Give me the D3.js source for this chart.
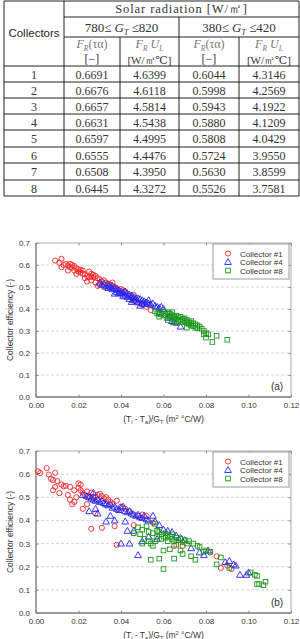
<!DOCTYPE html>
<html lang="en">
<head>
    <meta charset="UTF-8">
    <title>Collector efficiency</title>
    <script src="https://d3js.org/d3.v7.min.js"></script>
    <style>
        body { margin: 0; background: #fff; }
        .cell { font-family: "Liberation Serif", "DejaVu Serif", serif; fill: #333; }
        .axis-text { font-family: "Liberation Sans", Arial, sans-serif; fill: #333; }
        .grid { stroke: #c8c8c8; stroke-dasharray: 3,2; stroke-width: 0.8px; }
    </style>
</head>
<body>
<svg width="300" height="639"></svg>
<script>
// table values
const collectors = [1, 2, 3, 4, 5, 6, 7, 8];
const frTau780 = ['0.6691', '0.6676', '0.6657', '0.6631', '0.6597', '0.6555', '0.6508', '0.6445'];
const frUl780 = ['4.6399', '4.6118', '4.5814', '4.5438', '4.4995', '4.4476', '4.3950', '4.3272'];
const frTau380 = ['0.6044', '0.5998', '0.5943', '0.5880', '0.5808', '0.5724', '0.5630', '0.5526'];
const frUl380 = ['4.3146', '4.2569', '4.1922', '4.1209', '4.0429', '3.9550', '3.8599', '3.7581'];

// axis ticks
const xTicks = [0, 0.02, 0.04, 0.06, 0.08, 0.10, 0.12];
const yTicks = [0, 0.1, 0.2, 0.3, 0.4, 0.5, 0.6, 0.7];
const seriesNames = ['Collector #1', 'Collector #4', 'Collector #8'];

// chart (a): 780-820 W/m2
const a1 = [[0.009,0.620],[0.011,0.610],[0.012,0.628],[0.012,0.590],[0.013,0.600],[0.014,0.605],[0.015,0.598],[0.015,0.575],
  [0.016,0.605],[0.016,0.590],[0.017,0.600],[0.018,0.595],[0.018,0.575],[0.019,0.585],[0.019,0.560],[0.020,0.580],[0.020,0.570],
  [0.021,0.578],[0.022,0.575],[0.022,0.560],[0.023,0.540],[0.024,0.550],[0.024,0.525],[0.025,0.570],[0.025,0.545],[0.026,0.560],
  [0.026,0.530],[0.027,0.555],[0.027,0.545],[0.028,0.550],[0.028,0.520],[0.029,0.540],[0.029,0.505],[0.030,0.535],[0.030,0.510],
  [0.031,0.525],[0.032,0.530],[0.032,0.500],[0.033,0.520],[0.034,0.515],[0.035,0.510],[0.036,0.520],[0.037,0.500],[0.038,0.495],
  [0.040,0.490],[0.041,0.485],[0.042,0.480],[0.044,0.460],[0.045,0.450],[0.046,0.465],[0.047,0.440],[0.048,0.430],[0.050,0.420],
  [0.052,0.410],[0.054,0.395],[0.017,0.588],[0.021,0.565],[0.023,0.558],[0.026,0.548]];
const a4 = [[0.030,0.520],[0.031,0.510],[0.032,0.515],[0.033,0.505],[0.034,0.510],[0.034,0.495],[0.035,0.500],[0.036,0.505],
  [0.036,0.490],[0.037,0.495],[0.037,0.470],[0.038,0.490],[0.038,0.478],[0.039,0.485],[0.040,0.480],[0.040,0.470],[0.041,0.475],
  [0.041,0.458],[0.042,0.478],[0.042,0.462],[0.043,0.470],[0.044,0.465],[0.044,0.445],[0.045,0.460],[0.045,0.432],[0.046,0.455],
  [0.046,0.440],[0.047,0.450],[0.048,0.448],[0.048,0.430],[0.049,0.445],[0.049,0.415],[0.050,0.440],[0.050,0.425],[0.051,0.435],
  [0.052,0.430],[0.053,0.425],[0.053,0.440],[0.054,0.420],[0.055,0.425],[0.056,0.415],[0.057,0.410],[0.058,0.405],[0.058,0.380],
  [0.059,0.410],[0.060,0.400],[0.062,0.360],[0.064,0.345],[0.065,0.340],[0.068,0.320],[0.039,0.472],[0.043,0.455],[0.047,0.438],
  [0.051,0.422]];
const a8 = [[0.056,0.390],[0.057,0.380],[0.058,0.385],[0.058,0.365],[0.059,0.375],[0.060,0.388],[0.060,0.370],[0.061,0.380],
  [0.062,0.385],[0.062,0.365],[0.062,0.350],[0.063,0.378],[0.063,0.360],[0.064,0.372],[0.064,0.385],[0.065,0.365],[0.065,0.350],
  [0.066,0.370],[0.066,0.355],[0.066,0.335],[0.067,0.362],[0.067,0.345],[0.068,0.365],[0.068,0.350],[0.069,0.355],[0.069,0.340],
  [0.070,0.358],[0.070,0.345],[0.071,0.350],[0.071,0.315],[0.072,0.340],[0.072,0.330],[0.073,0.345],[0.073,0.325],[0.074,0.335],
  [0.075,0.330],[0.075,0.315],[0.076,0.325],[0.077,0.320],[0.078,0.310],[0.079,0.300],[0.079,0.285],[0.080,0.290],[0.080,0.270],
  [0.081,0.285],[0.083,0.250],[0.085,0.278],[0.090,0.260],[0.061,0.372],[0.063,0.368],[0.065,0.358],[0.067,0.352],[0.069,0.348],
  [0.071,0.338],[0.073,0.335],[0.074,0.322],[0.076,0.312]];

// chart (b): 380-420 W/m2
const b1 = [[0.001,0.612],[0.002,0.605],[0.005,0.626],[0.006,0.598],[0.007,0.580],[0.008,0.575],[0.009,0.606],[0.009,0.545],
  [0.008,0.530],[0.010,0.570],[0.011,0.518],[0.012,0.555],[0.013,0.548],[0.014,0.550],[0.015,0.510],[0.016,0.490],[0.016,0.545],
  [0.017,0.470],[0.018,0.530],[0.018,0.480],[0.019,0.500],[0.020,0.560],[0.020,0.540],[0.021,0.530],[0.021,0.555],[0.022,0.520],
  [0.022,0.450],[0.023,0.510],[0.024,0.525],[0.024,0.470],[0.025,0.505],[0.026,0.364],[0.026,0.520],[0.027,0.500],[0.028,0.430],
  [0.028,0.500],[0.029,0.510],[0.030,0.515],[0.031,0.368],[0.031,0.505],[0.032,0.495],[0.033,0.500],[0.034,0.490],[0.035,0.480],
  [0.036,0.470],[0.037,0.375],[0.038,0.295],[0.038,0.485],[0.040,0.460],[0.042,0.450],[0.044,0.440],[0.046,0.380],[0.048,0.420],
  [0.050,0.425],[0.052,0.420],[0.055,0.390],[0.065,0.290],[0.069,0.290],[0.082,0.262],[0.085,0.245],[0.087,0.195],[0.090,0.205],
  [0.092,0.190]];
const b4 = [[0.022,0.510],[0.024,0.505],[0.025,0.500],[0.026,0.495],[0.027,0.520],[0.027,0.490],[0.028,0.485],[0.029,0.490],
  [0.030,0.480],[0.031,0.485],[0.032,0.475],[0.033,0.470],[0.034,0.465],[0.035,0.470],[0.036,0.455],[0.037,0.460],[0.038,0.450],
  [0.039,0.445],[0.040,0.455],[0.041,0.460],[0.042,0.440],[0.043,0.435],[0.044,0.440],[0.045,0.430],[0.046,0.425],[0.047,0.420],
  [0.048,0.425],[0.049,0.415],[0.050,0.410],[0.051,0.420],[0.052,0.405],[0.053,0.400],[0.055,0.420],[0.056,0.395],[0.058,0.380],
  [0.060,0.360],[0.062,0.355],[0.064,0.350],[0.066,0.335],[0.068,0.325],[0.070,0.315],[0.073,0.280],[0.077,0.262],[0.079,0.250],
  [0.081,0.270],[0.089,0.220],[0.091,0.225],[0.093,0.210],[0.094,0.205],[0.096,0.165],[0.099,0.165],[0.100,0.175],[0.025,0.440],
  [0.028,0.450],[0.029,0.430],[0.033,0.395],[0.035,0.420],[0.037,0.400],[0.042,0.395],[0.040,0.300],[0.044,0.300],[0.043,0.355],
  [0.046,0.355],[0.048,0.250],[0.050,0.310],[0.053,0.330],[0.057,0.320]];
const b8 = [[0.046,0.345],[0.048,0.370],[0.049,0.340],[0.050,0.360],[0.050,0.300],[0.051,0.320],[0.052,0.375],[0.053,0.350],
  [0.053,0.310],[0.054,0.300],[0.054,0.230],[0.055,0.345],[0.055,0.290],[0.056,0.385],[0.056,0.310],[0.057,0.355],[0.057,0.330],
  [0.058,0.350],[0.058,0.235],[0.059,0.340],[0.059,0.320],[0.060,0.330],[0.060,0.270],[0.060,0.190],[0.061,0.345],[0.061,0.325],
  [0.062,0.335],[0.062,0.310],[0.063,0.330],[0.063,0.275],[0.064,0.320],[0.064,0.340],[0.065,0.310],[0.065,0.235],[0.066,0.325],
  [0.066,0.295],[0.067,0.315],[0.068,0.320],[0.068,0.270],[0.069,0.305],[0.069,0.255],[0.070,0.315],[0.071,0.300],[0.072,0.310],
  [0.073,0.245],[0.074,0.300],[0.075,0.230],[0.076,0.290],[0.077,0.285],[0.079,0.265],[0.080,0.270],[0.082,0.265],[0.085,0.210],
  [0.087,0.240],[0.091,0.195],[0.101,0.175],[0.103,0.165],[0.104,0.160],[0.104,0.125],[0.105,0.125],[0.107,0.120],[0.108,0.135]];

const svg = d3.select('svg');

// ---------- table ----------
const colX = [4, 64, 120, 179, 239, 299];
const rowY = [1, 17, 37, 66, 82, 98, 114, 130, 147, 163, 180, 196];
const tbl = svg.append('g');
const line = (x1, y1, x2, y2) => tbl.append('line')
    .attr('x1', x1).attr('y1', y1).attr('x2', x2).attr('y2', y2)
    .attr('stroke', '#222').attr('stroke-width', 1);

line(colX[0], rowY[0], colX[5], rowY[0]);
line(colX[1], rowY[1], colX[5], rowY[1]);
line(colX[1], rowY[2], colX[5], rowY[2]);
for (let i = 3; i < rowY.length; i++) line(colX[0], rowY[i], colX[5], rowY[i]);
line(colX[0], rowY[0], colX[0], rowY[11]);
line(colX[1], rowY[0], colX[1], rowY[11]);
line(colX[5], rowY[0], colX[5], rowY[11]);
line(colX[3], rowY[1], colX[3], rowY[11]);
line(colX[2], rowY[2], colX[2], rowY[11]);
line(colX[4], rowY[2], colX[4], rowY[11]);

const mid = i => (colX[i] + colX[i + 1]) / 2;

tbl.append('text').attr('class', 'cell')
    .attr('x', (colX[1] + colX[5]) / 2).attr('y', 13)
    .attr('text-anchor', 'middle').attr('font-size', 12.5).attr('letter-spacing', 0.9)
    .text('Solar radiation [W/\u33A1]');

tbl.append('text')
    .attr('x', mid(0)).attr('y', 37)
    .attr('text-anchor', 'middle').attr('font-size', 11.5)
    .attr('font-family', '"Liberation Sans", Arial, sans-serif').attr('fill', '#222')
    .text('Collectors');

function rangeLabel(x, lo, hi) {
    const t = tbl.append('text').attr('class', 'cell')
        .attr('x', x).attr('y', 32).attr('text-anchor', 'middle').attr('font-size', 13);
    t.append('tspan').text(lo + '\u2264 ');
    t.append('tspan').attr('font-style', 'italic').text('G');
    t.append('tspan').attr('font-style', 'italic').attr('font-size', 8).attr('dy', 3).text('T');
    t.append('tspan').attr('dy', -3).text(' \u2264' + hi);
}
rangeLabel((colX[1] + colX[3]) / 2, 780, 820);
rangeLabel((colX[3] + colX[5]) / 2, 380, 420);

function frTau(x) {
    const t = tbl.append('text').attr('class', 'cell')
        .attr('x', x).attr('y', 48).attr('text-anchor', 'middle').attr('font-size', 12)
        .style('fill', '#777');
    t.append('tspan').attr('font-style', 'italic').text('F');
    t.append('tspan').attr('font-style', 'italic').attr('font-size', 7.5).attr('dy', 2.5).text('R');
    t.append('tspan').attr('dy', -2.5).text('(\u03C4\u03B1)');
    tbl.append('text').attr('class', 'cell').attr('x', x).attr('y', 63)
        .attr('text-anchor', 'middle').attr('font-size', 12).text('[\u2212]');
}
function frUl(x) {
    const t = tbl.append('text').attr('class', 'cell')
        .attr('x', x).attr('y', 48).attr('text-anchor', 'middle').attr('font-size', 12)
        .style('fill', '#777');
    t.append('tspan').attr('font-style', 'italic').text('F');
    t.append('tspan').attr('font-style', 'italic').attr('font-size', 7.5).attr('dy', 2.5).text('R');
    t.append('tspan').attr('font-style', 'italic').attr('dy', -2.5).text(' U');
    t.append('tspan').attr('font-style', 'italic').attr('font-size', 7.5).attr('dy', 2.5).text('L');
    tbl.append('text').attr('class', 'cell').attr('x', x).attr('y', 63.5)
        .attr('text-anchor', 'middle').attr('font-size', 11).text('[W/\u33A1\u2103]');
}
frTau(mid(1)); frUl(mid(2)); frTau(mid(3)); frUl(mid(4));

const cols = [collectors, frTau780, frUl780, frTau380, frUl380];
cols.forEach((vals, ci) => {
    tbl.selectAll(null).data(vals).enter().append('text')
        .attr('class', 'cell')
        .attr('x', mid(ci))
        .attr('y', (d, i) => (rowY[i + 3] + rowY[i + 4]) / 2 + 4.5)
        .attr('text-anchor', 'middle').attr('font-size', 12)
        .text(d => d);
});

// ---------- scatter charts ----------
const colors = ['#f52525', '#2424f0', '#1c961c'];

function drawChart(top, bottom, series, tag) {
    const g = svg.append('g');
    const x = d3.scaleLinear().domain([0, 0.12]).range([36, 291]);
    const y = d3.scaleLinear().domain([0, 0.7]).range([bottom, top]);

    g.selectAll('.grid').data(yTicks.slice(1, -1)).enter().append('line')
        .attr('class', 'grid')
        .attr('x1', x(0)).attr('x2', x(0.12))
        .attr('y1', d => y(d)).attr('y2', d => y(d));

    // frame
    g.append('rect').attr('x', x(0)).attr('y', y(0.7))
        .attr('width', x(0.12) - x(0)).attr('height', y(0) - y(0.7))
        .attr('fill', 'none').attr('stroke', '#aaa').attr('stroke-width', 1);
    g.append('line').attr('x1', x(0)).attr('x2', x(0)).attr('y1', y(0.7)).attr('y2', y(0))
        .attr('stroke', '#888').attr('stroke-width', 1.3);
    g.append('line').attr('x1', x(0)).attr('x2', x(0.12)).attr('y1', y(0)).attr('y2', y(0))
        .attr('stroke', '#888').attr('stroke-width', 1.3);

    // axes with inward ticks
    const xb = g.append('g').attr('transform', `translate(0,${bottom})`)
        .call(d3.axisBottom(x).tickValues(xTicks).tickSize(-2.5).tickPadding(5).tickFormat(d3.format('.2f')));
    const xt = g.append('g').attr('transform', `translate(0,${top})`)
        .call(d3.axisTop(x).tickValues(xTicks).tickSize(-2.5).tickFormat(''));
    const yl = g.append('g').attr('transform', 'translate(36,0)')
        .call(d3.axisLeft(y).tickValues(yTicks).tickSize(-2.5).tickPadding(6).tickFormat(d3.format('.1f')));
    const yr = g.append('g').attr('transform', 'translate(291,0)')
        .call(d3.axisRight(y).tickValues(yTicks).tickSize(-2.5).tickFormat(''));
    [xb, xt, yl, yr].forEach(a => {
        a.select('.domain').remove();
        a.selectAll('line').attr('stroke', '#888');
        a.selectAll('text').attr('class', 'axis-text').attr('font-size', 8).attr('fill', '#333');
    });

    // markers
    const tri = d3.symbol(d3.symbolTriangle, 20);
    g.selectAll(null).data(series[0]).enter().append('circle')
        .attr('cx', d => x(d[0])).attr('cy', d => y(d[1])).attr('r', 2.6)
        .attr('fill', 'none').attr('stroke', colors[0]).attr('stroke-width', 0.9);
    g.selectAll(null).data(series[1]).enter().append('path')
        .attr('d', tri).attr('transform', d => `translate(${x(d[0])},${y(d[1]) + 0.5})`)
        .attr('fill', 'none').attr('stroke', colors[1]).attr('stroke-width', 0.9);
    g.selectAll(null).data(series[2]).enter().append('rect')
        .attr('x', d => x(d[0]) - 2.3).attr('y', d => y(d[1]) - 2.3)
        .attr('width', 4.6).attr('height', 4.6)
        .attr('fill', 'none').attr('stroke', colors[2]).attr('stroke-width', 0.9);

    // legend
    const lg = g.append('g').attr('transform', `translate(213,${top + 1})`);
    lg.append('rect').attr('width', 76).attr('height', 35)
        .attr('fill', '#fff').attr('stroke', '#999').attr('stroke-width', 1);
    const ly = [9.5, 18, 26.5];
    lg.append('circle').attr('cx', 15).attr('cy', ly[0]).attr('r', 2.6)
        .attr('fill', 'none').attr('stroke', colors[0]).attr('stroke-width', 0.9);
    lg.append('path').attr('d', tri).attr('transform', `translate(15,${ly[1] + 0.5})`)
        .attr('fill', 'none').attr('stroke', colors[1]).attr('stroke-width', 0.9);
    lg.append('rect').attr('x', 12.7).attr('y', ly[2] - 2.3).attr('width', 4.6).attr('height', 4.6)
        .attr('fill', 'none').attr('stroke', colors[2]).attr('stroke-width', 0.9);
    lg.selectAll(null).data(seriesNames).enter().append('text')
        .attr('class', 'axis-text').attr('font-size', 8)
        .attr('x', 27).attr('y', (d, i) => ly[i] + 3)
        .text(d => d);

    g.append('text').attr('class', 'axis-text').attr('font-size', 10)
        .attr('x', 277).attr('y', bottom - 7.5).attr('text-anchor', 'middle')
        .text(tag);

    // axis titles
    const xtTitle = g.append('text').attr('class', 'axis-text').attr('font-size', 8.5)
        .attr('x', (x(0) + x(0.12)) / 2).attr('y', bottom + 25).attr('text-anchor', 'middle');
    xtTitle.append('tspan').text('(T');
    xtTitle.append('tspan').attr('font-size', 5.5).attr('dy', 2).text('i');
    xtTitle.append('tspan').attr('dy', -2).text(' - T');
    xtTitle.append('tspan').attr('font-size', 5.5).attr('dy', 2).text('a');
    xtTitle.append('tspan').attr('dy', -2).text(')/G');
    xtTitle.append('tspan').attr('font-size', 5.5).attr('dy', 2).text('T');
    xtTitle.append('tspan').attr('dy', -2).text(' (m');
    xtTitle.append('tspan').attr('font-size', 5.5).attr('dy', -3).text('2');
    xtTitle.append('tspan').attr('dy', 3).text(' \u00B0C/W)');

    g.append('text').attr('class', 'axis-text').attr('font-size', 8.5)
        .attr('transform', `translate(13,${(top + bottom) / 2}) rotate(-90)`)
        .attr('text-anchor', 'middle')
        .text('Collector efficiency (-)');
}

drawChart(243, 397, [a1, a4, a8], '(a)');
drawChart(451, 613, [b1, b4, b8], '(b)');
</script>
</body>
</html>
